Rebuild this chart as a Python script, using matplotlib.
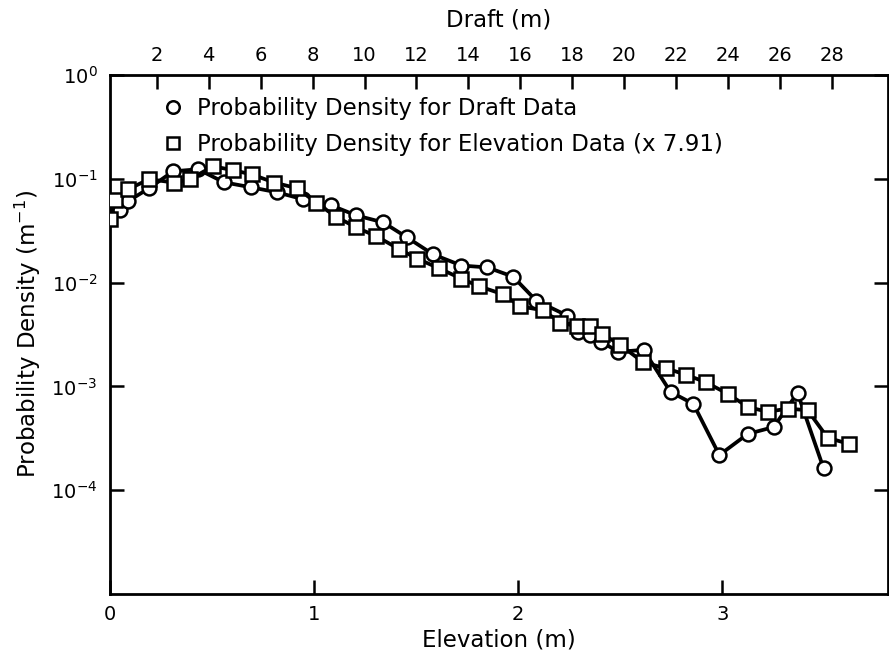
import matplotlib
matplotlib.use("Agg")
import matplotlib.pyplot as plt
import numpy as np

# Draft histogram (x in draft metres)
draft_x = [0.59, 0.89, 1.70, 2.63, 3.59, 4.59, 5.63, 6.64, 7.64, 8.71, 9.68,
           10.72, 11.64, 12.64, 13.73, 14.73, 15.72, 16.61, 17.81, 18.23,
           18.69, 19.12, 19.77, 20.74, 21.78, 22.66, 23.66, 24.75, 25.75,
           26.67, 27.67]
draft_pdf = [0.0496, 0.0606, 0.081, 0.118, 0.1235, 0.0925, 0.0828, 0.074,
             0.0634, 0.0555, 0.0444, 0.038, 0.0272, 0.0187, 0.0146, 0.0140,
             0.0114, 0.0067, 0.0048, 0.00336, 0.00315, 0.00269, 0.00215,
             0.00225, 0.000885, 0.000678, 0.000218, 0.000348, 0.000406,
             0.000865, 0.000163]

# Elevation histogram (x in elevation metres), density scaled by 7.91
elev_x = [0.0, 0.025, 0.088, 0.191, 0.314, 0.392, 0.505, 0.603, 0.696,
          0.804, 0.917, 1.01, 1.108, 1.206, 1.304, 1.417, 1.505, 1.613,
          1.721, 1.809, 1.926, 2.01, 2.123, 2.206, 2.289, 2.353, 2.412,
          2.50, 2.613, 2.721, 2.819, 2.917, 3.025, 3.127, 3.221, 3.319,
          3.417, 3.515, 3.618]
elev_pdf = [0.041, 0.063, 0.079, 0.099, 0.092, 0.099, 0.132, 0.121, 0.110,
            0.092, 0.081, 0.059, 0.043, 0.034, 0.028, 0.021, 0.017, 0.0137,
            0.0109, 0.0092, 0.0077, 0.0059, 0.0054, 0.0041, 0.0038, 0.0038,
            0.0032, 0.0025, 0.0017, 0.0015, 0.0013, 0.0011, 0.00085,
            0.00063, 0.00057, 0.00061, 0.00059, 0.00032, 0.00028]

draft_ticks = list(range(2, 30, 2))
elev_ticks = [0, 1, 2, 3]


def elev_to_draft(e):
    return 7.86 * np.asarray(e) + 0.2


def draft_to_elev(d):
    return (np.asarray(d) - 0.2) / 7.86


plt.rcParams["font.family"] = ["DejaVu Sans"]
plt.rcParams["mathtext.fontset"] = "dejavusans"

fig = plt.figure(figsize=(8.89, 6.56), dpi=100)
ax = fig.add_axes([0.1237, 0.0945, 0.875, 0.7912])

lw = 2.7
ax.plot(draft_to_elev(draft_x), draft_pdf, color="black", lw=lw,
        marker="o", ms=10, mfc="white", mec="black", mew=1.8, zorder=3,
        label="Probability Density for Draft Data")
ax.plot(elev_x, elev_pdf, color="black", lw=lw,
        marker="s", ms=10, mfc="white", mec="black", mew=1.8, zorder=3,
        label="Probability Density for Elevation Data (x 7.91)")

ax.set_yscale("log")
ax.set_ylim(1e-5, 1)
ax.set_xlim(0, 3.81)
ax.set_xticks(elev_ticks)
ax.set_yticks([1e0, 1e-1, 1e-2, 1e-3, 1e-4])
ax.yaxis.set_minor_locator(matplotlib.ticker.NullLocator())
ax.tick_params(axis="both", which="major", direction="in", length=10,
               width=1.8, labelsize=14, pad=8, right=True)
ax.tick_params(axis="y", pad=9)

for sp in ax.spines.values():
    sp.set_linewidth(2.0)

ax.set_xlabel("Elevation (m)", fontsize=16.5, labelpad=3)
ax.set_ylabel("Probability Density (m$^{-1}$)", fontsize=16.5, labelpad=6)

top = ax.secondary_xaxis("top", functions=(elev_to_draft, draft_to_elev))
top.set_xticks(draft_ticks)
top.tick_params(direction="in", length=10, width=1.8, labelsize=14, pad=7)
top.set_xlabel("Draft (m)", fontsize=16.5, labelpad=14)

leg = ax.legend(loc="upper left", bbox_to_anchor=(0.06, 0.975),
                frameon=False, fontsize=16.5, handlelength=0.6,
                handletextpad=0.75, labelspacing=0.55, borderaxespad=0)
for h in leg.legend_handles:
    h.set_linestyle("none")
    h.set_markersize(9)

fig.savefig("out.png", dpi=100)
